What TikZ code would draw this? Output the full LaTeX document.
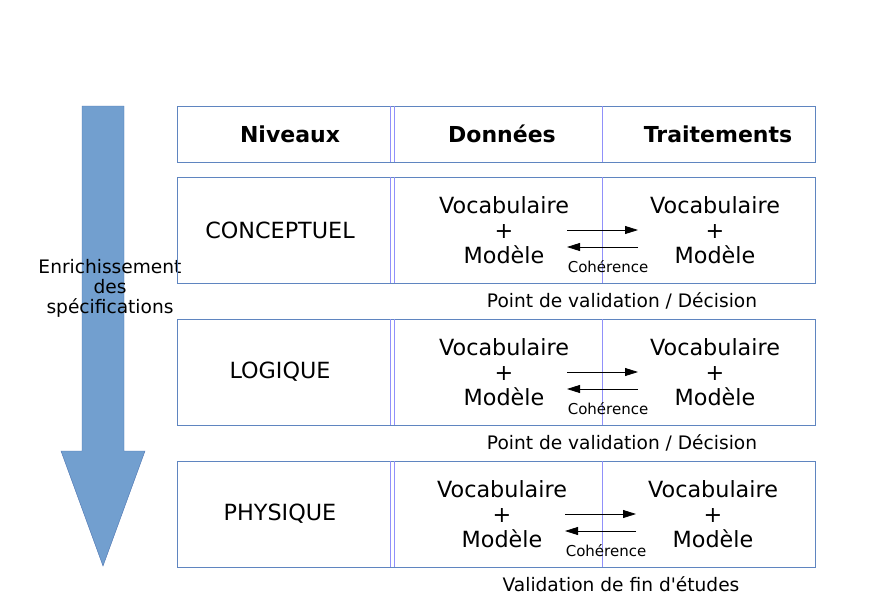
\documentclass[tikz,border=0pt]{standalone}
\usepackage{fontspec}
\setmainfont{DejaVu Sans}
\usetikzlibrary{arrows.meta}

\definecolor{boxblue}{HTML}{5F85C0}
\definecolor{sepblue}{HTML}{9090FA}
\definecolor{arrowfill}{HTML}{729FCF}
\definecolor{arrowline}{HTML}{4A72B0}

\tikzset{
	row/.style={draw=boxblue, line width=1pt},
	sep/.style={draw=sepblue, line width=0.8pt},
	big/.style={font=\fontsize{22.3}{25}\selectfont, align=center},
	head/.style={font=\fontsize{22}{24}\selectfont\bfseries},
	note/.style={font=\fontsize{18.6}{20}\selectfont, align=center},
	small/.style={font=\fontsize{15}{16}\selectfont},
	coh/.style={-{Triangle[length=13pt,width=8pt]}, line width=0.8pt},
}

\begin{document}
\begin{tikzpicture}[x=1pt,y=-1pt]
	\useasboundingbox (0,0) rectangle (890,602);

	% grande fleche
	\draw[fill=arrowfill, draw=arrowline] (82,106) -- (124,106) -- (124,451) -- (145,451)
		-- (103,566) -- (61,451) -- (82,451) -- cycle;
	\node[note] (enrich) at (110,288) {Enrichissement\\des\\spécifications};

	% entete
	\draw[row] (177,106) rectangle (815,162);
	\draw[sep] (390,106) -- (390,162);
	\draw[sep] (394,106) -- (394,162);
	\draw[sep] (602,106) -- (602,162);
	\node[head] (niv) at (290,134) {Niveaux};
	\node[head] (don) at (502,134) {Données};
	\node[head] (trt) at (718,134) {Traitements};

	\foreach \y/\nom/\dx [count=\i] in {177/CONCEPTUEL/0, 319/LOGIQUE/0, 461/PHYSIQUE/-2} {
		\draw[row] (177,\y) rectangle (815,{\y+106});
		\draw[sep] (390,\y) -- (390,{\y+106});
		\draw[sep] (394,\y) -- (394,{\y+106});
		\draw[sep] (602,\y) -- (602,{\y+106});
		\node[big] (lvl\i) at (280,{\y+53}) {\nom};
		\node[big] (donv\i) at ({504+\dx},{\y+53}) {Vocabulaire\\+\\Modèle};
		\node[big] (trtv\i) at ({715+\dx},{\y+53}) {Vocabulaire\\+\\Modèle};
		\coordinate (ga\i) at ({567+\dx},{\y+53});
		\coordinate (da\i) at ({638+\dx},{\y+53});
		\coordinate (gr\i) at ({567+\dx},{\y+70});
		\coordinate (dr\i) at ({638+\dx},{\y+70});
		\draw[coh] (ga\i) -- (da\i);
		\draw[coh] (dr\i) -- (gr\i);
		\node[small] (coh\i) at ({608+\dx},{\y+90}) {Cohérence};
	}

	% points de validation
	\node[note] (val1) at (622,301) {Point de validation / Décision};
	\node[note] (val2) at (622,443) {Point de validation / Décision};
	\node[note] (val3) at (621,584) {Validation de fin d\textquotesingle études};
\end{tikzpicture}
\end{document}
